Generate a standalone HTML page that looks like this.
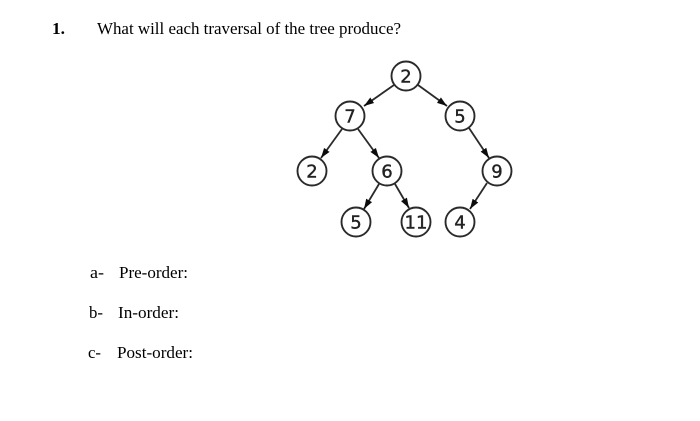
<!DOCTYPE html>
<html><head><meta charset="utf-8"><style>
html,body{margin:0;padding:0;background:#fff;width:700px;height:421px;overflow:hidden}
svg{display:block}
</style></head><body>
<svg width="700" height="421" viewBox="0 0 700 421" xmlns="http://www.w3.org/2000/svg">
<defs>
<marker id="a" markerUnits="userSpaceOnUse" markerWidth="12" markerHeight="10" refX="10" refY="5" orient="auto">
<path d="M0,1.6 L10,5 L0,8.4 Z" fill="#111"/></marker>
<filter id="b" x="-5%" y="-5%" width="110%" height="110%"><feGaussianBlur stdDeviation="0.35"/></filter>
</defs>
<g font-family="'Liberation Serif',serif" font-size="17.3" fill="#000" filter="url(#b)">
<text x="52" y="34" font-weight="bold" textLength="13">1.</text>
<text x="97" y="34" textLength="304" lengthAdjust="spacingAndGlyphs">What will each traversal of the tree produce?</text>
<text x="90" y="278" textLength="14" lengthAdjust="spacingAndGlyphs">a-</text>
<text x="119" y="278" textLength="69" lengthAdjust="spacingAndGlyphs">Pre-order:</text>
<text x="89" y="318" textLength="14" lengthAdjust="spacingAndGlyphs">b-</text>
<text x="118" y="318" textLength="61" lengthAdjust="spacingAndGlyphs">In-order:</text>
<text x="88" y="358" textLength="13" lengthAdjust="spacingAndGlyphs">c-</text>
<text x="117" y="358" textLength="76" lengthAdjust="spacingAndGlyphs">Post-order:</text>
</g>
<g filter="url(#b)">
<g stroke="#2a2a2a" stroke-width="1.8" fill="none">
<line x1="394" y1="85" x2="364" y2="106" marker-end="url(#a)"/>
<line x1="418" y1="85" x2="447" y2="106" marker-end="url(#a)"/>
<line x1="342" y1="129" x2="321" y2="158" marker-end="url(#a)"/>
<line x1="358" y1="129" x2="379" y2="158" marker-end="url(#a)"/>
<line x1="469" y1="128" x2="489" y2="158" marker-end="url(#a)"/>
<line x1="379" y1="184" x2="364" y2="209" marker-end="url(#a)"/>
<line x1="395" y1="184" x2="409" y2="208" marker-end="url(#a)"/>
<line x1="487" y1="183" x2="470" y2="209" marker-end="url(#a)"/>
</g>
<g fill="#fff" stroke="#2a2a2a" stroke-width="1.9">
<circle cx="406" cy="76" r="14.5"/>
<circle cx="350" cy="116" r="14.5"/>
<circle cx="460" cy="116" r="14.5"/>
<circle cx="312" cy="171" r="14.5"/>
<circle cx="387" cy="171" r="14.5"/>
<circle cx="497" cy="171" r="14.5"/>
<circle cx="356" cy="222" r="14.5"/>
<circle cx="416" cy="222" r="14.5"/>
<circle cx="460" cy="222" r="14.5"/>
</g>
<g font-family="'DejaVu Sans',sans-serif" font-size="18" fill="#222" stroke="#222" stroke-width="0.4" text-anchor="middle">
<text x="406" y="82.5">2</text>
<text x="350" y="122.5">7</text>
<text x="460" y="122.5">5</text>
<text x="312" y="177.5">2</text>
<text x="387" y="177.5">6</text>
<text x="497" y="177.5">9</text>
<text x="356" y="228.5">5</text>
<text x="416" y="228.5" textLength="23" lengthAdjust="spacingAndGlyphs">11</text>
<text x="460" y="228.5">4</text>
</g>
</g>
</svg>
</body></html>
